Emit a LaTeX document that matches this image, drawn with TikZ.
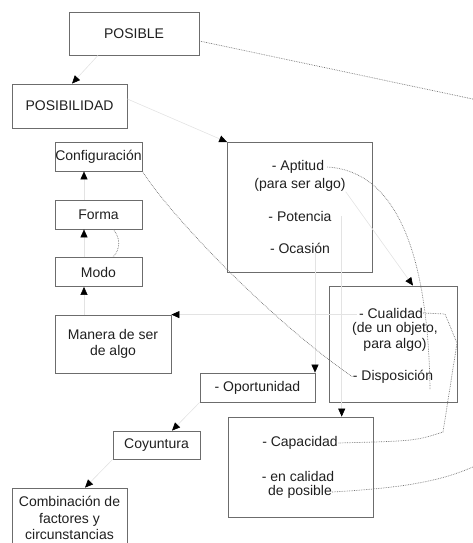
\documentclass[tikz,border=0pt]{standalone}
\usepackage{fontspec}
\setmainfont{Liberation Sans}
\usepackage{xcolor}
\usetikzlibrary{arrows.meta, positioning}

\begin{document}
\begin{tikzpicture}[
    x=1pt, y=-1pt,
    every node/.style={font=\fontsize{14}{16.5}\selectfont, text=black!88, inner sep=0pt, align=center},
    box/.style={rectangle, draw=gray!85!black, line width=0.8pt},
    arr/.style={-{Triangle[length=8pt, width=7pt, color=black, fill=black]}, line width=0.6pt, draw=gray!22},
    dots/.style={densely dotted, line width=0.7pt, draw=gray!90!black},
]
    \useasboundingbox (0,0) rectangle (472,543);

    \node[box, minimum width=130pt, minimum height=43pt] (posible) at (134,33.5) {POSIBLE};
    \node[box, minimum width=115pt, minimum height=44pt] (posibilidad) at (69.5,106) {POSIBILIDAD};

    \node[box, minimum width=87pt, minimum height=29pt] (config) at (98.5,156.5) {Configuración};
    \node[box, minimum width=87pt, minimum height=29pt] (forma) at (98.5,214.5) {Forma};
    \node[box, minimum width=87pt, minimum height=29pt] (modo) at (98.5,272) {Modo};
    \node[box, minimum width=116pt, minimum height=58pt] (manera) at (113,344) {Manera de ser\\de algo};

    \node[box, minimum width=145pt, minimum height=130pt] (aptbox) at (300,207.5) {};
    \node (apt) at (298,167) {- Aptitud};
    \node (para) at (300,185) {(para ser algo)};
    \node (pot) at (300,216) {- Potencia};
    \node (oca) at (300,248) {- Ocasión};

    \node[box, minimum width=128pt, minimum height=116pt] (cualbox) at (393,344) {};
    \node (cual) at (391,313) {- Cualidad};
    \node (objeto) at (395,337) {(de un objeto,\\para algo)};
    \node (disp) at (393,377) {- Disposición};

    \node[box, minimum width=115pt, minimum height=29pt] (oport) at (257.5,387.5) {- Oportunidad};

    \node[box, minimum width=145pt, minimum height=100pt] (capbox) at (300.5,467) {};
    \node (cap) at (300,443) {- Capacidad};
    \node (encal) at (298,476) {- en calidad};
    \node (depos) at (300,492) {de posible};

    \node[box, minimum width=87pt, minimum height=28pt] (coy) at (156.5,445) {Coyuntura};
    \node[box, minimum width=115pt, minimum height=60pt] (comb) at (69.5,518) {Combinación de\\factores y\\circunstancias};

    \coordinate (offA) at (475,99.5);
    \coordinate (aptEnd) at (430,389);
    \coordinate (offB) at (475,466);

    \draw[arr] ([xshift=-36pt]posible.south) -- ([xshift=2.5pt]posibilidad.north);
    \draw[arr] ([yshift=7pt]posibilidad.east) -- (aptbox.north west);
    \draw[arr] ([xshift=-29pt]manera.north) -- ([xshift=-14.5pt]modo.south);
    \draw[arr] ([xshift=-14.5pt]modo.north) -- ([xshift=-14.5pt]forma.south);
    \draw[arr] ([xshift=-14.5pt]forma.north) -- ([xshift=-14.5pt]config.south);
    \draw[arr] ([xshift=-2pt]cual.west |- manera.north) -- (manera.north east);
    \draw[arr] ([xshift=15pt]oca.south) -- ([xshift=15pt]oca.south |- oport.north);
    \draw[arr] ([xshift=10pt]pot.east) -- ([xshift=10pt]pot.east |- capbox.north);
    \draw[arr] (para.south east) -- ([xshift=20pt]cualbox.north);
    \draw[arr] (oport.south west) -- ([xshift=15.5pt]coy.north);
    \draw[arr] (coy.south west) -- ([xshift=15.5pt]comb.north);

    \draw[dots] ([yshift=-7.5pt]posible.east) -- (offA);
    \draw[dots] ([xshift=14.5pt]forma.south) to[bend left=45] ([xshift=14.5pt]modo.north);
    \draw[dots] (config.south east) .. controls (170,215) and (270,320) .. (disp.west);
    \draw[dots] ([xshift=3pt]apt.east) .. controls (395,171) and (428,250) .. (aptEnd);
    \draw[dots] (cual.east) -- (445,314) -- (457,343) -- (443,432) .. controls (415,441) .. (cap.east);
    \draw[dots] (depos.east) .. controls (400,488) and (440,482) .. (offB);
\end{tikzpicture}
\end{document}
